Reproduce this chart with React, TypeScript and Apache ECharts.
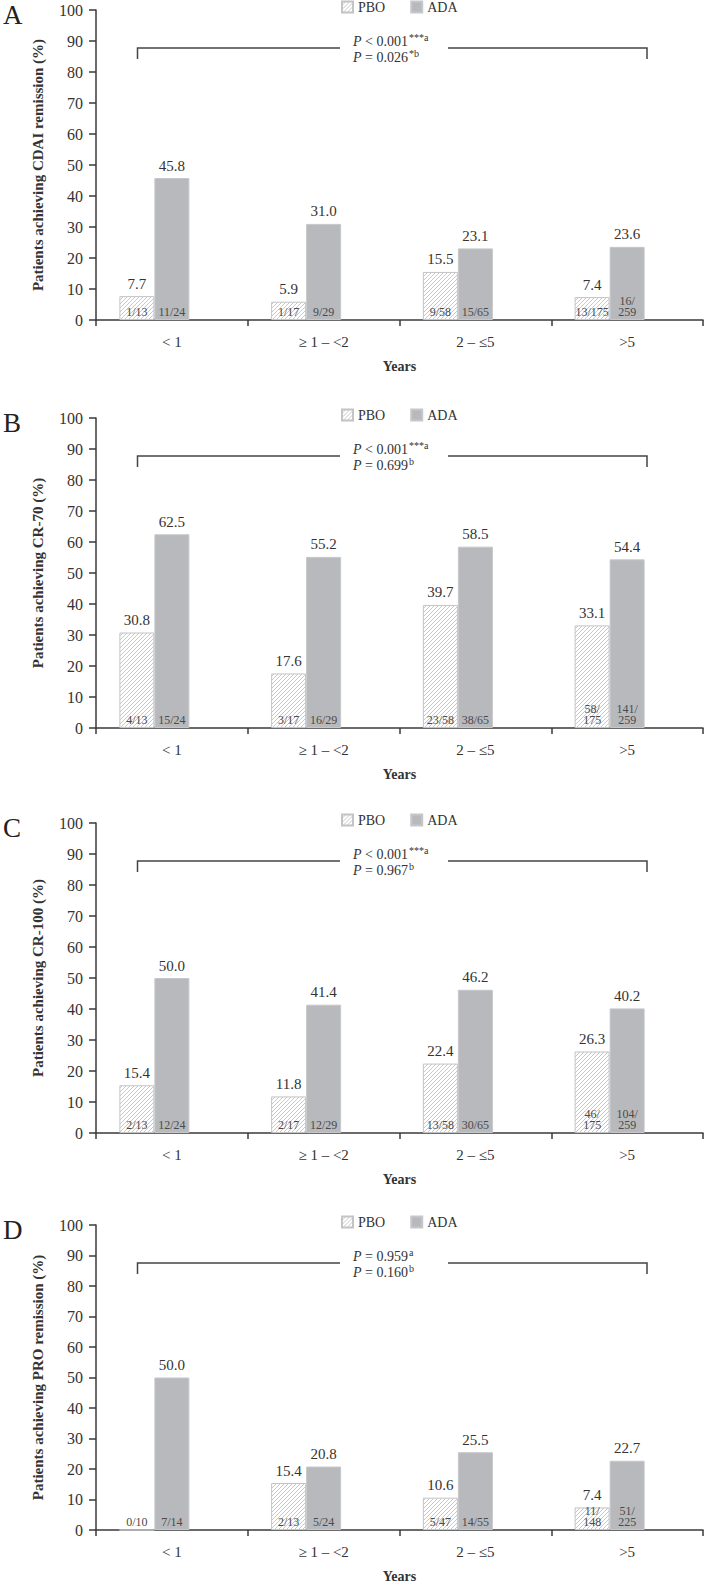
import React, { useEffect, useRef } from 'react';
import * as echarts from 'echarts';

const FONT = '"Liberation Serif", "Times New Roman", serif';

// ---------- data ----------
const categories = ['< 1', '≥ 1 – <2', '2 – ≤5', '>5'];
const panelLetters = ['A', 'B', 'C', 'D'];
const yAxisNames = [
  'Patients achieving CDAI remission (%)',
  'Patients achieving CR-70 (%)',
  'Patients achieving CR-100 (%)',
  'Patients achieving PRO remission (%)',
];
const yMin = 0;
const yMax = 100;
const yInterval = 10;

const pboA = [7.7, 5.9, 15.5, 7.4];
const adaA = [45.8, 31.0, 23.1, 23.6];
const pboNA = ['1/13', '1/17', '9/58', '13/175'];
const adaNA = ['11/24', '9/29', '15/65', '16/\n259'];
const pA = [
  { op: '<', val: '0.001', sup: '***a' },
  { op: '=', val: '0.026', sup: '*b' },
];

const pboB = [30.8, 17.6, 39.7, 33.1];
const adaB = [62.5, 55.2, 58.5, 54.4];
const pboNB = ['4/13', '3/17', '23/58', '58/\n175'];
const adaNB = ['15/24', '16/29', '38/65', '141/\n259'];
const pB = [
  { op: '<', val: '0.001', sup: '***a' },
  { op: '=', val: '0.699', sup: 'b' },
];

const pboC = [15.4, 11.8, 22.4, 26.3];
const adaC = [50.0, 41.4, 46.2, 40.2];
const pboNC = ['2/13', '2/17', '13/58', '46/\n175'];
const adaNC = ['12/24', '12/29', '30/65', '104/\n259'];
const pC = [
  { op: '<', val: '0.001', sup: '***a' },
  { op: '=', val: '0.967', sup: 'b' },
];

const pboD = [0, 15.4, 10.6, 7.4];
const adaD = [50.0, 20.8, 25.5, 22.7];
const pboND = ['0/10', '2/13', '5/47', '11/\n148'];
const adaND = ['7/14', '5/24', '14/55', '51/\n225'];
const pD = [
  { op: '=', val: '0.959', sup: 'a' },
  { op: '=', val: '0.160', sup: 'b' },
];

const pboAll = [pboA, pboB, pboC, pboD];
const adaAll = [adaA, adaB, adaC, adaD];
const pboNAll = [pboNA, pboNB, pboNC, pboND];
const adaNAll = [adaNA, adaNB, adaNC, adaND];
const pAll = [pA, pB, pC, pD];

// ---------- layout ----------
const W = 706;
const H = 1584;
const GRID_LEFT = 96;
const GRID_W = 607;
const PANEL_TOPS = [10, 418, 823, 1225];
const PLOT_H = 310;
const BAR_W = 35;

const AXIS_COLOR = '#3a3a3a';
const TEXT_COLOR = '#333';
const ADA_COLOR = '#b8b9bc';

function makeHatch() {
  const s = 4;
  const c = document.createElement('canvas');
  c.width = s;
  c.height = s;
  const ctx = c.getContext('2d')!;
  ctx.fillStyle = '#ffffff';
  ctx.fillRect(0, 0, s, s);
  ctx.strokeStyle = '#c2c2c2';
  ctx.lineWidth = 0.9;
  ctx.beginPath();
  ctx.moveTo(0, s);
  ctx.lineTo(s, 0);
  ctx.moveTo(-1, 1);
  ctx.lineTo(1, -1);
  ctx.moveTo(s - 1, s + 1);
  ctx.lineTo(s + 1, s - 1);
  ctx.stroke();
  return c;
}

export default function App() {
  const ref = useRef<HTMLDivElement>(null);

  useEffect(() => {
    if (!ref.current) return;
    const chart = echarts.init(ref.current, null, { renderer: 'svg', width: W, height: H });
    const hatch: any = { image: makeHatch(), repeat: 'repeat', imageWidth: 4, imageHeight: 4 };

    const grids: any[] = [];
    const xAxes: any[] = [];
    const yAxes: any[] = [];
    const legends: any[] = [];
    const series: any[] = [];
    const graphics: any[] = [];

    panelLetters.forEach((letter, i) => {
      const top = PANEL_TOPS[i];
      grids.push({ left: GRID_LEFT, width: GRID_W, top, height: PLOT_H });
      xAxes.push({
        type: 'category',
        gridIndex: i,
        data: categories,
        axisLine: { lineStyle: { color: AXIS_COLOR, width: 1.5 } },
        axisTick: { show: true, length: 6, alignWithLabel: false, lineStyle: { color: AXIS_COLOR, width: 1.5 } },
        axisLabel: { fontFamily: FONT, fontSize: 15, color: TEXT_COLOR, margin: 14 },
        name: 'Years',
        nameLocation: 'middle',
        nameGap: 39,
        nameTextStyle: { fontFamily: FONT, fontSize: 14, fontWeight: 'bold', color: TEXT_COLOR },
      });
      yAxes.push({
        type: 'value',
        gridIndex: i,
        min: yMin,
        max: yMax,
        interval: yInterval,
        axisLine: { show: true, lineStyle: { color: AXIS_COLOR, width: 1.5 } },
        axisTick: { show: true, length: 7, lineStyle: { color: AXIS_COLOR, width: 1.5 } },
        splitLine: { show: false },
        axisLabel: { fontFamily: FONT, fontSize: 16, color: TEXT_COLOR, margin: 13 },
        name: yAxisNames[i],
        nameLocation: 'middle',
        nameGap: 51,
        nameTextStyle: { fontFamily: FONT, fontSize: 15, fontWeight: 'bold', color: TEXT_COLOR },
      });
      legends.push({
        data: ['PBO', 'ADA'],
        left: 341,
        top: top - 10,
        padding: 0,
        itemWidth: 11,
        itemHeight: 11,
        itemGap: 25,
        icon: 'rect',
        selectedMode: false,
        textStyle: { fontFamily: FONT, fontSize: 14, color: TEXT_COLOR },
      });

      const pbo = pboAll[i];
      const ada = adaAll[i];
      const pboN = pboNAll[i];
      const adaN = adaNAll[i];
      const fracLabel = (arr: string[]) => ({
        show: true,
        position: 'insideBottom',
        distance: 3,
        formatter: (p: any) => arr[p.dataIndex],
        fontFamily: FONT,
        fontSize: 12,
        lineHeight: 11,
        color: '#4a4a4a',
      });
      const valLabel = (arr: number[]) => ({
        show: true,
        position: 'top',
        distance: 5,
        formatter: (p: any) => (arr[p.dataIndex] > 0 ? arr[p.dataIndex].toFixed(1) : ''),
        fontFamily: FONT,
        fontSize: 15,
        color: TEXT_COLOR,
      });
      const common = { type: 'bar', xAxisIndex: i, yAxisIndex: i, barWidth: BAR_W, barGap: 0 };
      series.push(
        { ...common, name: 'PBO', stack: 'pbo' + i, data: pbo, itemStyle: { color: hatch, borderColor: '#c4c4c4', borderWidth: 1 }, label: fracLabel(pboN) },
        { ...common, name: 'PBO top', stack: 'pbo' + i, data: pbo.map(() => 0), itemStyle: { color: 'rgba(0,0,0,0)' }, label: valLabel(pbo), silent: true },
        { ...common, name: 'ADA', stack: 'ada' + i, data: ada, itemStyle: { color: ADA_COLOR, borderColor: '#c6c7ca', borderWidth: 1 }, label: fracLabel(adaN) },
        { ...common, name: 'ADA top', stack: 'ada' + i, data: ada.map(() => 0), itemStyle: { color: 'rgba(0,0,0,0)' }, label: valLabel(ada), silent: true },
        { ...common, name: 'blank', stack: 'blank' + i, data: categories.map(() => '-'), silent: true }
      );

      // panel letter
      graphics.push({
        type: 'text',
        x: 3,
        y: top + 5,
        style: { text: letter, fontFamily: FONT, fontSize: 27, fill: '#222', verticalAlign: 'middle', align: 'left' },
      });
      // bracket
      const by = top + 38;
      const bb = top + 49;
      graphics.push({
        type: 'polyline',
        shape: { points: [[137.5, bb], [137.5, by], [340, by]] },
        style: { stroke: '#444', lineWidth: 1.5, fill: 'none' },
      });
      graphics.push({
        type: 'polyline',
        shape: { points: [[448, by], [647, by], [647, bb]] },
        style: { stroke: '#444', lineWidth: 1.5, fill: 'none' },
      });
      // p values
      pAll[i].forEach((pv, k) => {
        graphics.push({
          type: 'text',
          x: 353,
          y: top + 31 + k * 16,
          style: {
            text: `{i|P}{n| ${pv.op} ${pv.val}}{s|${pv.sup}}`,
            verticalAlign: 'middle',
            align: 'left',
            fill: TEXT_COLOR,
            fontFamily: FONT,
            fontSize: 14,
            rich: {
              i: { fontFamily: FONT, fontSize: 14, fontStyle: 'italic', fill: TEXT_COLOR },
              n: { fontFamily: FONT, fontSize: 14, fill: TEXT_COLOR },
              s: { fontFamily: FONT, fontSize: 10, fill: TEXT_COLOR, padding: [0, 0, 8, 1] },
            },
          },
        });
      });
    });

    chart.setOption({
      animation: false,
      backgroundColor: '#ffffff',
      grid: grids,
      xAxis: xAxes,
      yAxis: yAxes,
      legend: legends,
      series,
      graphic: graphics,
    });

    return () => chart.dispose();
  }, []);

  return <div ref={ref} style={{ position: 'absolute', left: 0, top: 0, width: W, height: H }} />;
}
